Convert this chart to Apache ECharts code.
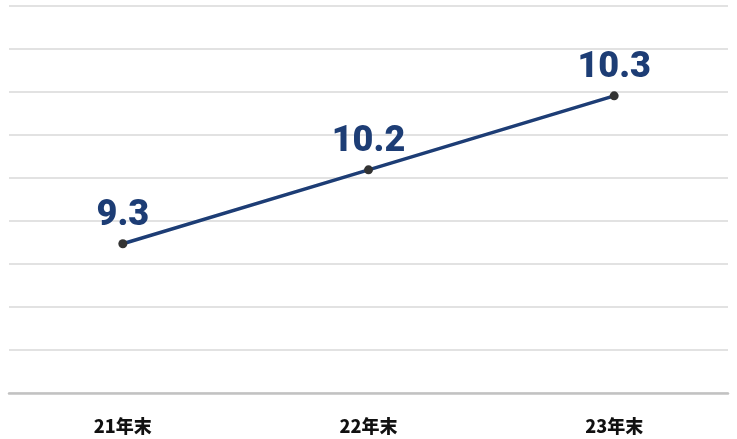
<!DOCTYPE html>
<html>
<head>
<meta charset="utf-8">
<script src="https://cdn.jsdelivr.net/npm/echarts@6/dist/echarts.min.js"></script>
<style>
  html, body { margin: 0; padding: 0; background: #fff; }
  #chart { width: 737px; height: 439px; }
</style>
</head>
<body>
<div id="chart"></div>
<script>
// 年末カテゴリ
const categories = ["21年末", "22年末", "23年末"];
// 点の上に表示する値
const valueLabels = ["9.3", "10.2", "10.3"];
// 元の図で点が置かれている高さ（目盛 0〜9 の単位で読み取り）
const plotted = [3.47, 5.19, 6.91];

const chart = echarts.init(document.getElementById("chart"));
const navy = "#1d3d75";

const option = {
  animation: false,
  grid: [
    // 目盛線だけのグリッド
    { left: 9, right: 9, top: 6, bottom: 46 },
    // 折れ線とカテゴリラベル（少し広めに取って点の位置を合わせる）
    { left: -2, width: 744, top: 6, bottom: 46 },
  ],
  xAxis: [
    {
      gridIndex: 0,
      type: "category",
      data: categories,
      axisLine: { show: true, lineStyle: { color: "#c2c2c2", width: 2.5 } },
      axisTick: { show: false },
      axisLabel: { show: false },
    },
    {
      gridIndex: 1,
      type: "category",
      data: categories,
      boundaryGap: true,
      axisLine: { show: false },
      axisTick: { show: false },
      axisLabel: {
        margin: 24,
        color: "#111",
        fontSize: 18,
        fontWeight: 900,
        fontFamily: "Noto Sans CJK JP",
      },
    },
  ],
  yAxis: [
    {
      gridIndex: 0,
      type: "value",
      min: 0,
      max: 9,
      interval: 1,
      axisLine: { show: false },
      axisTick: { show: false },
      axisLabel: { show: false },
      splitLine: { lineStyle: { color: "#d9d9d9", width: 1.5 } },
    },
    {
      gridIndex: 1,
      type: "value",
      min: 0,
      max: 9,
      interval: 1,
      show: false,
      splitLine: { show: false },
    },
  ],
  series: [
    {
      type: "line",
      xAxisIndex: 1,
      yAxisIndex: 1,
      data: plotted,
      symbol: "circle",
      symbolSize: 9,
      lineStyle: { color: navy, width: 3.5 },
      itemStyle: { color: "#333" },
      label: {
        show: true,
        position: "top",
        distance: 5,
        formatter: (p) => valueLabels[p.dataIndex],
        color: navy,
        fontSize: 36,
        fontWeight: 900,
        fontFamily: "Roboto",
      },
    },
  ],
};

chart.setOption(option);
window.addEventListener("resize", function () {
  chart.resize();
});
</script>
</body>
</html>
